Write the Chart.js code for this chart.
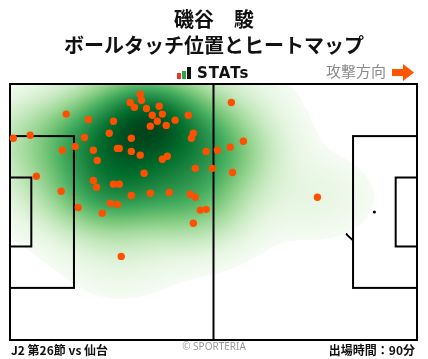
<!DOCTYPE html>
<html>
<head>
<meta charset="utf-8">
<script src="https://cdn.jsdelivr.net/npm/chart.js@4.4.1/dist/chart.umd.min.js"></script>
<style>
  body { margin: 0; background: #fff; }
  #wrap { position: relative; width: 428px; height: 359px; overflow: hidden; font-family: "Noto Sans CJK JP", sans-serif; color: #111; }
  #pitch { position: absolute; left: 0; top: 0; }
  .txt { position: absolute; white-space: nowrap; }
  .bar { position: absolute; }
</style>
</head>
<body>
<div id="wrap">
  <canvas id="pitch" width="428" height="359"></canvas>
  <div class="txt" style="left:0;width:428px;text-align:center;top:9px;line-height:20px;font-size:20px;font-weight:bold;">磯谷　駿</div>
  <div class="txt" style="left:0;width:428px;text-align:center;top:35px;line-height:20px;font-size:20px;font-weight:bold;">ボールタッチ位置とヒートマップ</div>

  <div class="bar" style="left:177px;top:73px;width:4px;height:6px;background:#e8382b;"></div>
  <div class="bar" style="left:182px;top:71px;width:4px;height:8px;background:#27a844;"></div>
  <div class="bar" style="left:187px;top:67px;width:4px;height:12px;background:#111;"></div>
  <div class="txt" style="left:197px;top:66px;line-height:15px;font-size:15px;font-weight:bold;font-family:'DejaVu Sans';letter-spacing:1px;">STATs</div>

  <div class="txt" style="left:326px;top:63px;line-height:16px;font-size:15px;color:#8a8a8a;">攻撃方向</div>
  <svg class="txt" style="left:390px;top:62px;" width="26" height="21">
    <polygon points="2,7 13,7 13,2 24,10.5 13,19 13,14 2,14" fill="#ff5500"/>
  </svg>

  <div class="txt" style="left:11px;top:343px;line-height:14px;font-size:12px;font-weight:bold;">J2 第26節 vs 仙台</div>
  <div class="txt" style="left:0;width:428px;text-align:center;top:340px;line-height:12px;font-size:10px;color:#9a9a9a;font-family:'Noto Sans';">© SPORTERIA</div>
  <div class="txt" style="right:13px;top:343px;line-height:14px;font-size:12px;font-weight:bold;">出場時間：90分</div>
</div>

<script>
// ball touches, pitch metres (x: 0-105 toward attack, y: 0-68 from bottom touchline)
const touchX = [33.6, 31.0, 33.9, 32.1, 35.2, 38.5, 36.7, 39.3, 46.0, 14.5,
                20.2, 26.7, 38.0, 42.6, 36.2, 40.3, 47.3, 46.8, 0.85, 5.2,
                25.6, 19.2, 31.3, 13.5, 16.8, 21.5, 27.7, 28.2, 31.3, 33.6,
                22.5, 39.3, 40.6, 50.6, 53.5, 6.8, 34.6, 47.8, 52.2, 21.5,
                22.3, 26.7, 28.2, 13.2, 31.3, 36.2, 41.1, 46.5, 47.8, 17.6,
                25.9, 27.7, 23.8, 49.1, 50.6, 47.3, 28.7, 57.1, 60.2, 56.8,
                57.4, 79.3];
const touchY = [65.3, 63.1, 63.7, 61.8, 61.5, 62.1, 59.7, 60.0, 59.7, 60.0,
                58.6, 58.1, 58.1, 58.4, 56.8, 57.0, 54.9, 53.6, 53.6, 54.4,
                54.9, 53.8, 53.6, 50.4, 51.4, 50.4, 50.9, 50.9, 50.1, 49.1,
                47.7, 48.0, 48.8, 50.1, 50.4, 43.5, 44.3, 45.6, 45.6, 42.4,
                40.6, 41.4, 41.4, 39.5, 38.4, 39.0, 39.2, 38.7, 37.9, 35.2,
                36.3, 36.0, 33.7, 34.5, 34.7, 31.0, 22.2, 63.1, 52.8, 51.2,
                44.5, 37.9];

const points = touchX.map((x, i) => ({ x: x, y: touchY[i] }));

const BW_X = 9.2;
const BW_Y = 7;
const THRESH = 0.016;
const GAMMA = 0.72;
const GREENS = [[247,252,245],[229,245,224],[199,233,192],[161,217,155],[116,196,118],
                [65,171,93],[35,139,69],[0,109,44],[0,68,27]];

function greens(t) {
  t = Math.max(0, Math.min(1, t)) * (GREENS.length - 1);
  const i = Math.min(GREENS.length - 2, Math.floor(t));
  const f = t - i;
  return GREENS[i].map((c, k) => Math.round(c + (GREENS[i + 1][k] - c) * f));
}

const pitchPlugin = {
  id: 'pitch',
  beforeDatasetsDraw(chart) {
    const { ctx, chartArea: a, scales: { x, y } } = chart;
    const px = v => x.getPixelForValue(v);
    const py = v => y.getPixelForValue(v);
    const sx = x.getPixelForValue(1) - x.getPixelForValue(0);

    ctx.save();
    ctx.strokeStyle = '#000';
    ctx.fillStyle = '#000';
    ctx.lineWidth = 2;

    // arcs and spots first, the heatmap covers them where it is drawn
    ctx.beginPath();
    ctx.arc(px(52.5), py(34), 9.15 * sx, 0, Math.PI * 2);
    ctx.stroke();
    ctx.beginPath();
    ctx.arc(px(11), py(34), 9.15 * sx, -0.92, 0.92);
    ctx.stroke();
    ctx.beginPath();
    ctx.arc(px(94), py(34), 9.15 * sx, Math.PI - 0.92, Math.PI + 0.92);
    ctx.stroke();
    [[11, 34], [94, 34]].forEach(([sx0, sy0]) => {
      ctx.beginPath();
      ctx.arc(px(sx0), py(sy0), 1.6, 0, Math.PI * 2);
      ctx.fill();
    });

    // kernel density of the touches
    const w = Math.round(a.right - a.left);
    const h = Math.round(a.bottom - a.top);
    const dens = new Float32Array(w * h);
    let max = 0;
    for (let j = 0; j < h; j++) {
      const yv = y.getValueForPixel(a.top + j + 0.5);
      for (let i = 0; i < w; i++) {
        const xv = x.getValueForPixel(a.left + i + 0.5);
        let s = 0;
        for (let k = 0; k < touchX.length; k++) {
          const dx = (xv - touchX[k]) / BW_X;
          const dy = (yv - touchY[k]) / BW_Y;
          s += Math.exp(-0.5 * (dx * dx + dy * dy));
        }
        dens[j * w + i] = s;
        if (s > max) max = s;
      }
    }
    const off = document.createElement('canvas');
    off.width = w;
    off.height = h;
    const octx = off.getContext('2d');
    const img = octx.createImageData(w, h);
    for (let p = 0; p < w * h; p++) {
      const v = dens[p] / max;
      if (v < THRESH) continue;
      const c = greens(Math.pow((v - THRESH) / (1 - THRESH), GAMMA));
      img.data[p * 4] = c[0];
      img.data[p * 4 + 1] = c[1];
      img.data[p * 4 + 2] = c[2];
      img.data[p * 4 + 3] = 255;
    }
    octx.putImageData(img, 0, 0);
    ctx.drawImage(off, a.left, a.top);

    // straight lines on top
    ctx.strokeRect(px(0), py(68), px(105) - px(0), py(0) - py(68));
    ctx.beginPath();
    ctx.moveTo(px(52.5), py(68));
    ctx.lineTo(px(52.5), py(0));
    ctx.stroke();
    const boxes = [[0, 16.5, 13.84, 54.16], [0, 5.5, 24.84, 43.16],
                   [88.5, 105, 13.84, 54.16], [99.5, 105, 24.84, 43.16]];
    boxes.forEach(([x0, x1, y0, y1]) => {
      ctx.strokeRect(px(x0), py(y1), px(x1) - px(x0), py(y0) - py(y1));
    });
    ctx.restore();
  }
};

new Chart(document.getElementById('pitch'), {
  type: 'scatter',
  data: {
    datasets: [{
      data: points,
      pointRadius: 3.7,
      pointHoverRadius: 3.7,
      backgroundColor: '#ff5000',
      borderWidth: 0,
      clip: false
    }]
  },
  options: {
    responsive: false,
    animation: false,
    layout: { padding: { left: 10, top: 84, right: 11, bottom: 19 } },
    scales: {
      x: { type: 'linear', min: 0, max: 105, display: false },
      y: { type: 'linear', min: 0, max: 68, display: false }
    },
    plugins: { legend: { display: false }, tooltip: { enabled: false } }
  },
  plugins: [pitchPlugin]
});
</script>
</body>
</html>
